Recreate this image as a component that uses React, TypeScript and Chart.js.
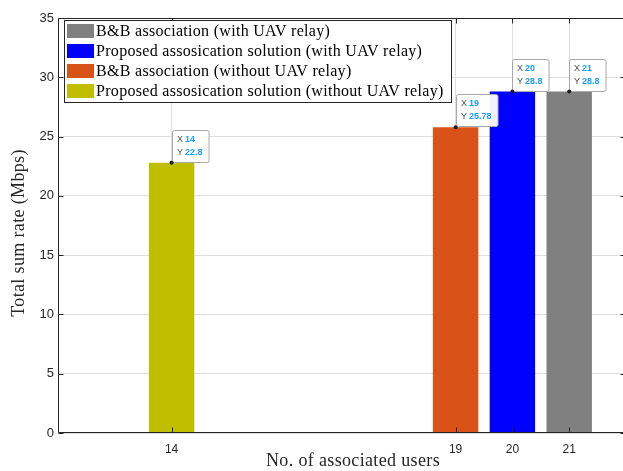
import { useEffect, useRef } from "react";
import { Chart, registerables } from "chart.js";

Chart.register(...registerables);

const seriesNames = [
  "B&B association (with UAV relay)",
  "Proposed assosication solution (with UAV relay)",
  "B&B association (without UAV relay)",
  "Proposed assosication solution (without UAV relay)",
];
const userCounts = [21, 20, 19, 14];
const sumRates = [28.8, 28.8, 25.78, 22.8];
const xTickValues = [14, 19, 20, 21];
const yTickValues = [0, 5, 10, 15, 20, 25, 30, 35];

const xTitle = "No. of associated users";
const yTitle = "Total sum rate (Mbps)";

export default function App() {
  const ref = useRef<HTMLCanvasElement | null>(null);

  useEffect(() => {
    if (!ref.current) return;
    const colors = ["#808080", "#0000FF", "#D95319", "#BFBF00"];
    const axisColor = "#262626";
    const serif = "'Liberation Serif', 'DejaVu Serif', serif";
    const sans = "'Liberation Sans', Arial, sans-serif";

    const overlay = {
      id: "matlabOverlay",
      afterDraw(chart: any) {
        const ctx = chart.ctx as CanvasRenderingContext2D;
        const a = chart.chartArea;
        const xs = chart.scales.x;
        const ys = chart.scales.y;
        ctx.save();
        // box
        ctx.strokeStyle = axisColor;
        ctx.lineWidth = 1;
        const L = Math.round(a.left) + 0.5;
        const R = Math.round(a.right) - 0.5;
        const T = Math.round(a.top) + 0.5;
        const B = Math.round(a.bottom) - 0.5;
        ctx.beginPath();
        ctx.moveTo(L, T);
        ctx.lineTo(R, T);
        ctx.lineTo(R, B);
        ctx.lineTo(L, B);
        ctx.closePath();
        ctx.stroke();
        // inward ticks
        const tl = 5;
        ctx.beginPath();
        xTickValues.forEach((v) => {
          const px = Math.round(xs.getPixelForValue(v)) + 0.5;
          ctx.moveTo(px, B);
          ctx.lineTo(px, B - tl);
          ctx.moveTo(px, T);
          ctx.lineTo(px, T + tl);
        });
        yTickValues.forEach((v) => {
          const py = Math.round(ys.getPixelForValue(v)) + 0.5;
          ctx.moveTo(L, py);
          ctx.lineTo(L + tl, py);
          ctx.moveTo(R, py);
          ctx.lineTo(R - tl, py);
        });
        ctx.stroke();

        // legend
        const lx = 64, ly = 20, lw = 387, lh = 82;
        ctx.fillStyle = "#ffffff";
        ctx.fillRect(lx, ly, lw, lh);
        ctx.strokeStyle = axisColor;
        ctx.strokeRect(lx + 0.5, ly + 0.5, lw, lh);
        ctx.font = `16px ${serif}`;
        (ctx as any).letterSpacing = "0.3px";
        ctx.textBaseline = "middle";
        ctx.textAlign = "left";
        chart.data.datasets.forEach((ds: any, i: number) => {
          const cy = 31 + 20 * i;
          ctx.fillStyle = ds.backgroundColor;
          ctx.fillRect(67, cy - 7, 27, 14);
          ctx.fillStyle = "#000000";
          ctx.fillText(ds.label, 96, cy + 1);
        });
        (ctx as any).letterSpacing = "0px";

        // data tips
        chart.data.datasets.forEach((ds: any) => {
          const p = ds.data[0];
          const px = xs.getPixelForValue(p.x);
          const py = ys.getPixelForValue(p.y);
          const xv = String(p.x);
          const yv = String(p.y);
          ctx.font = `bold 9px ${sans}`;
          const vw = Math.max(ctx.measureText(xv).width, ctx.measureText(yv).width);
          const bw = 13 + vw + 6;
          const bh = 32;
          const bx = Math.round(px) + 0.5;
          const by = Math.round(py - bh - 1) + 0.5;
          ctx.fillStyle = "rgba(255,255,255,0.95)";
          ctx.strokeStyle = "#a8a8a8";
          ctx.lineWidth = 1;
          ctx.beginPath();
          (ctx as any).roundRect(bx, by, bw, bh, 2);
          ctx.fill();
          ctx.stroke();
          ctx.textBaseline = "middle";
          ctx.font = `9px ${sans}`;
          ctx.fillStyle = "#4d4d4d";
          ctx.fillText("X", bx + 4.5, by + 9);
          ctx.fillText("Y", bx + 4.5, by + 22);
          ctx.font = `bold 9px ${sans}`;
          ctx.fillStyle = "#1a9bff";
          ctx.fillText(xv, bx + 12.5, by + 9);
          ctx.fillText(yv, bx + 12.5, by + 22);
          // dot
          ctx.fillStyle = "#1a1a1a";
          ctx.beginPath();
          ctx.arc(px, py, 2, 0, Math.PI * 2);
          ctx.fill();
        });

        // axis titles
        ctx.fillStyle = axisColor;
        ctx.font = `18px ${serif}`;
        (ctx as any).letterSpacing = "0.35px";
        ctx.textAlign = "center";
        ctx.textBaseline = "middle";
        ctx.fillText(xTitle, 353, 461);
        ctx.save();
        ctx.translate(19, 233);
        ctx.rotate(-Math.PI / 2);
        ctx.fillText(yTitle, 0, 0);
        ctx.restore();
        (ctx as any).letterSpacing = "0px";
        ctx.restore();
      },
    };

    const chart = new Chart(ref.current, {
      type: "bar",
      data: {
        datasets: seriesNames.map((name, i) => ({
          label: name,
          data: [{ x: userCounts[i], y: sumRates[i] }],
          backgroundColor: colors[i],
          borderWidth: 0,
          grouped: false,
          barPercentage: 0.8,
          categoryPercentage: 1,
        })),
      },
      options: {
        animation: false,
        responsive: false,
        layout: { padding: { top: 18, left: 0, right: 0, bottom: 0 } },
        plugins: {
          legend: { display: false },
          tooltip: { enabled: false },
        },
        scales: {
          x: {
            type: "linear",
            min: 12,
            max: 22,
            offset: false,
            afterBuildTicks: (s: any) => {
              s.ticks = xTickValues.map((v) => ({ value: v }));
            },
            afterFit: (s: any) => {
              s.height = 38;
            },
            ticks: {
              color: axisColor,
              font: { family: sans, size: 12 },
              padding: 9,
              maxRotation: 0,
              autoSkip: false,
              callback: (v: any) => String(v),
            },
            grid: { color: "#dfdfdf", drawTicks: false, offset: false },
            border: { display: false },
          },
          y: {
            min: 0,
            max: 35,
            afterBuildTicks: (s: any) => {
              s.ticks = yTickValues.map((v) => ({ value: v }));
            },
            afterFit: (s: any) => {
              s.width = 58;
            },
            ticks: {
              color: axisColor,
              font: { family: sans, size: 13 },
              padding: 4,
              callback: (v: any) => String(v),
            },
            grid: { color: "#dfdfdf", drawTicks: false, offset: false },
            border: { display: false },
          },
        },
      } as any,
      plugins: [overlay],
    });
    return () => chart.destroy();
  }, []);

  return (
    <div
      style={{
        position: "absolute",
        left: 0,
        top: 0,
        width: 623,
        height: 471,
        overflow: "hidden",
        background: "#ffffff",
      }}
    >
      <canvas ref={ref} width={626} height={471} style={{ display: "block" }} />
    </div>
  );
}
